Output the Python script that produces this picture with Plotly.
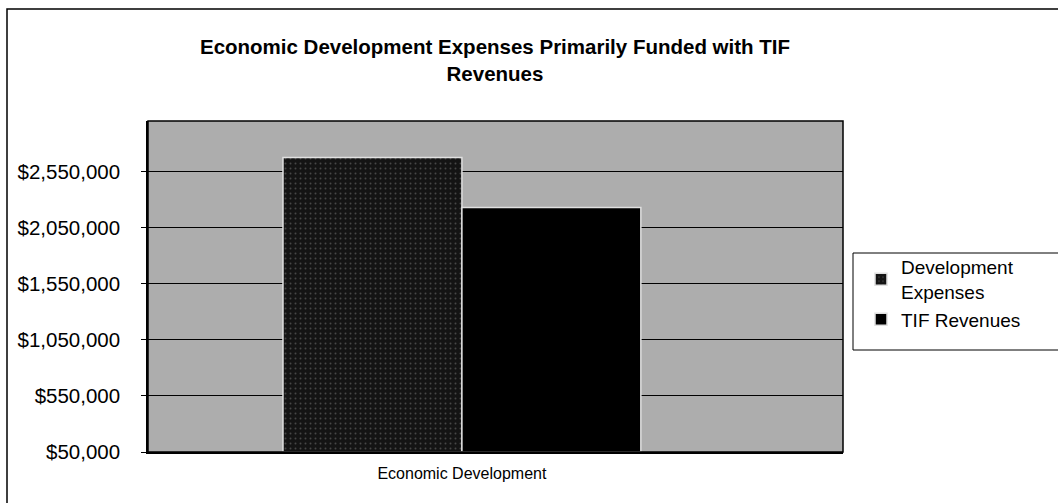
import plotly.graph_objects as go

categories = ["Economic Development"]
series_names = ["Development Expenses", "TIF Revenues"]
legend_labels = ["Development<br>Expenses", "TIF Revenues"]
dev_expenses = [2675000]
tif_revenues = [2228000]
tick_values = [50000, 550000, 1050000, 1550000, 2050000, 2550000]
tick_labels = ["$50,000", "$550,000", "$1,050,000", "$1,550,000", "$2,050,000", "$2,550,000"]
title_text = "Economic Development Expenses Primarily Funded with TIF<br>Revenues"

W, H = 1058, 503
L, R, T, B = 148, 843, 121, 452

def px(x):
    return (x - L) / (R - L)

def py(y):
    return (B - y) / (B - T)

FONT = "Arial, Liberation Sans, sans-serif"

fig = go.Figure()
fig.add_trace(go.Bar(
    x=categories, y=[v - 50000 for v in dev_expenses], base=50000,
    name=legend_labels[0],
    marker=dict(color="#1c1c1c", line=dict(color="#e0e0e0", width=1.5),
                pattern=dict(shape=".", fgcolor="#7a7a7a", bgcolor="#141414",
                             size=5, solidity=0.12)),
    hovertext=series_names[0],
))
fig.add_trace(go.Bar(
    x=categories, y=[v - 50000 for v in tif_revenues], base=50000,
    name=legend_labels[1],
    marker=dict(color="#000000", line=dict(color="#e0e0e0", width=1.5)),
    hovertext=series_names[1],
))

fig.update_layout(
    width=W, height=H,
    margin=dict(l=L, r=W - R, t=T, b=H - B, pad=0),
    paper_bgcolor="white",
    plot_bgcolor="#adadad",
    barmode="group", bargap=0.43, bargroupgap=0.0,
    font=dict(family=FONT, color="black"),
    title=dict(text=title_text, x=495 / W, xanchor="center",
               y=1 - 54 / H, yanchor="top", yref="container",
               font=dict(size=20.5, family=FONT, color="black", weight="bold")),
    showlegend=True,
    legend=dict(x=px(861), y=py(248), xanchor="left", yanchor="top",
                bgcolor="rgba(0,0,0,0)", borderwidth=0,
                font=dict(size=19), tracegroupgap=0, itemwidth=30),
    xaxis=dict(type="category", range=[-0.5, 0.607], showgrid=False,
               showline=True, linecolor="black", linewidth=1.5,
               ticks="", tickfont=dict(size=16), ticklabelstandoff=6),
    yaxis=dict(range=[50000, 3000000], tickvals=tick_values, ticktext=tick_labels,
               showgrid=True, gridcolor="black", gridwidth=1, zeroline=False,
               showline=True, linecolor="black", linewidth=1.5,
               ticks="outside", ticklen=5, tickcolor="black",
               tickfont=dict(size=20.5), ticklabelstandoff=17),
    shapes=[
        dict(type="rect", xref="paper", yref="paper",
             x0=px(7), x1=px(1066), y0=py(512), y1=py(9),
             line=dict(color="black", width=1.5), fillcolor="rgba(0,0,0,0)", layer="below"),
        dict(type="rect", xref="paper", yref="paper",
             x0=px(853), x1=px(1070), y0=py(350), y1=py(253),
             line=dict(color="black", width=1), fillcolor="rgba(0,0,0,0)", layer="below"),
        dict(type="rect", xref="paper", yref="paper",
             x0=0, x1=1, y0=0, y1=1,
             line=dict(color="black", width=1.5), fillcolor="rgba(0,0,0,0)"),
    ],
)

fig.write_html("out.html")
